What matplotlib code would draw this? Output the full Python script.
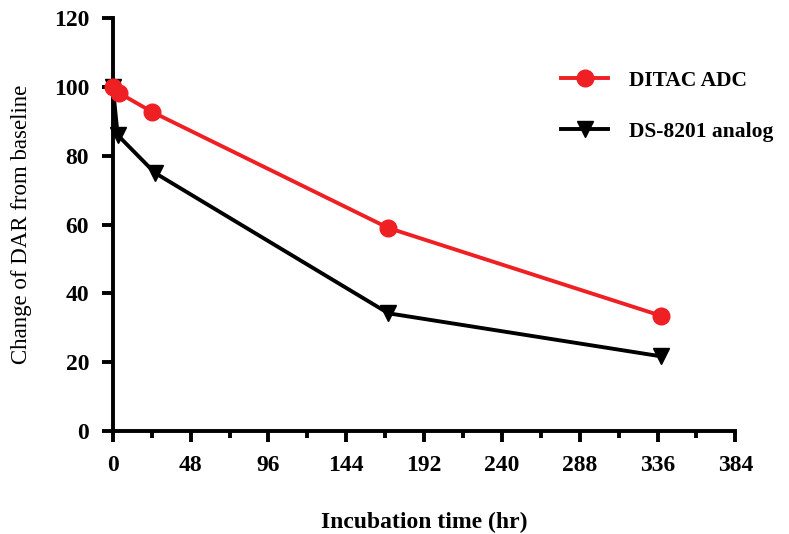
import matplotlib.pyplot as plt
from matplotlib.ticker import MultipleLocator

# data
ditac_time = [0, 4, 24, 170, 338]
ditac_dar = [100, 98.2, 92.8, 59.0, 33.5]
ds_time = [0, 3, 26, 170, 338]
ds_dar = [100, 86.0, 75.0, 34.2, 21.7]
series_names = ["DITAC ADC", "DS-8201 analog"]

plt.rcParams['font.family'] = ['Liberation Serif', 'DejaVu Serif']

fig = plt.figure(figsize=(7.89, 5.34), dpi=100)
ax = fig.add_axes([0.143, 0.193, 0.789, 0.773])

ax.plot(ditac_time, ditac_dar, color='#ee2024', lw=2.8, marker='o', ms=12,
        label=series_names[0], clip_on=False, zorder=3)
ax.plot(ds_time, ds_dar, color='black', lw=2.8, marker='v', ms=12,
        label=series_names[1], clip_on=False, zorder=2)

ax.set_xlim(0, 384)
ax.set_ylim(0, 120)
ax.xaxis.set_major_locator(MultipleLocator(48))
ax.xaxis.set_minor_locator(MultipleLocator(24))
ax.yaxis.set_major_locator(MultipleLocator(20))

for s in ['top', 'right']:
    ax.spines[s].set_visible(False)
for s in ['left', 'bottom']:
    ax.spines[s].set_linewidth(2.8)

ax.tick_params(axis='both', which='major', direction='out', length=8, width=2.8,
               labelsize=17, pad=9)
ax.tick_params(axis='x', which='minor', direction='out', length=5, width=2.8)
for lab in ax.get_xticklabels() + ax.get_yticklabels():
    lab.set_fontweight('bold')

ax.set_xlabel("Incubation time (hr)", fontsize=17, fontweight='bold', labelpad=26)
ax.set_ylabel("Change of DAR from baseline", fontsize=16.5, labelpad=16)

ax.legend(loc='upper left', bbox_to_anchor=(0.689, 0.92), frameon=False,
          prop={'weight': 'bold', 'size': 15.5}, handlelength=2.2,
          labelspacing=1.45, handletextpad=0.95)

fig.savefig("out.png", dpi=100)
